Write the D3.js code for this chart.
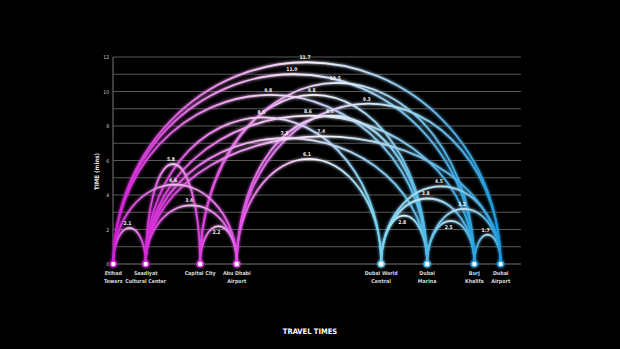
<!DOCTYPE html>
<html>
<head>
<meta charset="utf-8">
<script src="https://cdn.jsdelivr.net/npm/d3@7"></script>
<style>
  html, body { margin: 0; padding: 0; background: #000; }
  svg { display: block; }
</style>
</head>
<body>
<svg id="chart" width="620" height="349"></svg>
<script>
// stations along the line (km from Etihad Towers)
var stations = ['Etihad Towers', 'Saadiyat Cultural Center', 'Capital City', 'Abu Dhabi Airport',
  'Dubai World Central', 'Dubai Marina', 'Burj Khalifa', 'Dubai Airport'];
var stationKm = [0, 10.7, 28.7, 40.8, 88.5, 103.7, 119.3, 128];
var stationLines = [['Etihad', 'Towers'], ['Saadiyat', 'Cultural Center'], ['Capital City'], ['Abu Dhabi', 'Airport'],
  ['Dubai World', 'Central'], ['Dubai', 'Marina'], ['Burj', 'Khalifa'], ['Dubai', 'Airport']];

// trips: from station index, to station index, travel time in minutes
var tripFrom = [0, 1, 0, 1, 2, 4, 4, 4, 5, 5, 6, 0, 0, 2, 0, 2, 3, 1, 1, 3, 1, 1, 3];
var tripTo   = [1, 2, 3, 3, 3, 5, 6, 7, 6, 7, 7, 7, 6, 6, 5, 5, 7, 4, 6, 5, 7, 5, 4];
var tripTime = [2.1, 5.8, 4.6, 3.4, 2.2, 2.8, 3.8, 4.5, 2.5, 3.2, 1.7, 11.7, 11.0, 10.5, 9.8, 9.8, 9.3, 8.5, 8.6, 8.6, 7.4, 7.3, 6.1];

var yTicks = [0, 2, 4, 6, 8, 10, 12];

function draw() {
    var svg = d3.select('#chart'),
        left = 113, right = 521, yTop = 57, yBottom = 264;

    var x = d3.scaleLinear().domain([0, 128]).range([113.3, 500.7]),
        y = d3.scaleLinear().domain([0, 12]).range([yBottom, yTop]);

    // colour runs magenta on the Abu Dhabi side to blue on the Dubai side
    var colour = d3.scaleLinear()
        .domain([113, 250, 312, 372, 500])
        .range(['#d01bd2', '#e24fe4', '#f3e4f7', '#78d3f2', '#1796da'])
        .interpolate(d3.interpolateRgb);

    var defs = svg.append('defs');
    var glow = defs.append('filter').attr('id', 'glow')
        .attr('x', '-20%').attr('y', '-20%').attr('width', '140%').attr('height', '140%');
    glow.append('feGaussianBlur').attr('stdDeviation', 1.5).attr('result', 'b');
    var merge = glow.append('feMerge');
    merge.append('feMergeNode').attr('in', 'b');
    merge.append('feMergeNode').attr('in', 'SourceGraphic');

    // grid
    svg.append('g').selectAll('line')
        .data(d3.range(1, 13))
        .join('line')
        .attr('x1', left).attr('x2', right)
        .attr('y1', function (d) { return y(d); })
        .attr('y2', function (d) { return y(d); })
        .attr('stroke', '#585858').attr('stroke-width', 1);

    svg.append('line')
        .attr('x1', left).attr('x2', left).attr('y1', yTop).attr('y2', yBottom)
        .attr('stroke', '#777').attr('stroke-width', 1);
    svg.append('line')
        .attr('x1', left).attr('x2', right).attr('y1', yBottom).attr('y2', yBottom)
        .attr('stroke', '#777').attr('stroke-width', 1.2);

    var yAxis = svg.append('g')
        .attr('transform', 'translate(' + left + ',0)')
        .call(d3.axisLeft(y).tickValues(yTicks).tickSize(0).tickPadding(4).tickFormat(d3.format('d')));
    yAxis.select('.domain').remove();
    yAxis.selectAll('text')
        .attr('fill', '#cfcfcf')
        .style('font', '5px "DejaVu Sans Condensed", sans-serif');

    svg.append('text')
        .attr('transform', 'translate(99,' + ((yTop + yBottom) / 2 + 11) + ') rotate(-90)')
        .attr('text-anchor', 'middle')
        .attr('fill', '#e8e8e8')
        .style('font', 'bold 6.2px "DejaVu Sans Condensed", sans-serif')
        .text('TIME (mins)');

    // arcs
    var trips = tripTime.map(function (t, i) {
        return { a: tripFrom[i], b: tripTo[i], t: t, i: i };
    });
    // draw tall trips first so short ones sit on top
    trips.sort(function (p, q) { return q.t - p.t; });

    var below = { '2-3': 1, '4-5': 1, '5-6': 1 };

    trips.forEach(function (d) {
        var x1 = x(stationKm[d.a]), x2 = x(stationKm[d.b]);
        var g = defs.append('linearGradient')
            .attr('id', 'g' + d.i)
            .attr('gradientUnits', 'userSpaceOnUse')
            .attr('x1', x1).attr('x2', x2).attr('y1', 0).attr('y2', 0);
        var mid = (x1 + x2) / 2;
        g.append('stop').attr('offset', 0).attr('stop-color', colour(x1));
        g.append('stop').attr('offset', 0.5).attr('stop-color', d3.interpolateRgb(colour(mid), '#ffffff')(0.7));
        g.append('stop').attr('offset', 1).attr('stop-color', colour(x2));
    });

    var arcs = svg.append('g').attr('filter', 'url(#glow)');
    arcs.selectAll('path')
        .data(trips)
        .join('path')
        .attr('d', function (d) {
            var x1 = x(stationKm[d.a]), x2 = x(stationKm[d.b]);
            var rx = (x2 - x1) / 2, ry = yBottom - y(d.t);
            return 'M' + x1 + ',' + yBottom + ' A' + rx + ',' + ry + ' 0 0 1 ' + x2 + ',' + yBottom;
        })
        .attr('fill', 'none')
        .attr('stroke', function (d) { return 'url(#g' + d.i + ')'; })
        .attr('stroke-width', 1.8);

    svg.append('g').selectAll('text')
        .data(trips)
        .join('text')
        .attr('x', function (d) { return (x(stationKm[d.a]) + x(stationKm[d.b])) / 2 - 2; })
        .attr('y', function (d) { return below[d.a + '-' + d.b] ? y(d.t) + 8 : y(d.t) - 3; })
        .attr('text-anchor', 'middle')
        .attr('fill', '#f2f2f2')
        .style('font', 'bold 5px "DejaVu Sans Condensed", sans-serif')
        .text(function (d) { return d3.format('.1f')(d.t); });

    // station dots
    var dots = svg.append('g');
    dots.selectAll('circle.halo')
        .data(stationKm)
        .join('circle')
        .attr('class', 'halo')
        .attr('cx', function (d) { return x(d); })
        .attr('cy', yBottom)
        .attr('r', 3.6)
        .attr('fill', function (d) { return colour(x(d)); })
        .attr('filter', 'url(#glow)');
    dots.selectAll('circle.core')
        .data(stationKm)
        .join('circle')
        .attr('class', 'core')
        .attr('cx', function (d) { return x(d); })
        .attr('cy', yBottom)
        .attr('r', 2.2)
        .attr('fill', '#ffffff');

    var labels = svg.append('g');
    stationLines.forEach(function (lines, i) {
        var t = labels.append('text')
            .attr('x', x(stationKm[i]))
            .attr('y', 275)
            .attr('text-anchor', 'middle')
            .attr('fill', '#d8d8d8')
            .style('font', 'bold 5.3px "DejaVu Sans Condensed", sans-serif');
        lines.forEach(function (l, j) {
            t.append('tspan').attr('x', x(stationKm[i])).attr('dy', j ? 7.5 : 0).text(l);
        });
    });

    svg.append('text')
        .attr('x', 310).attr('y', 334)
        .attr('text-anchor', 'middle')
        .attr('fill', '#ffffff')
        .style('font', 'bold 7.5px "DejaVu Sans Condensed", sans-serif')
        .text('TRAVEL TIMES');
}

draw();
</script>
</body>
</html>
